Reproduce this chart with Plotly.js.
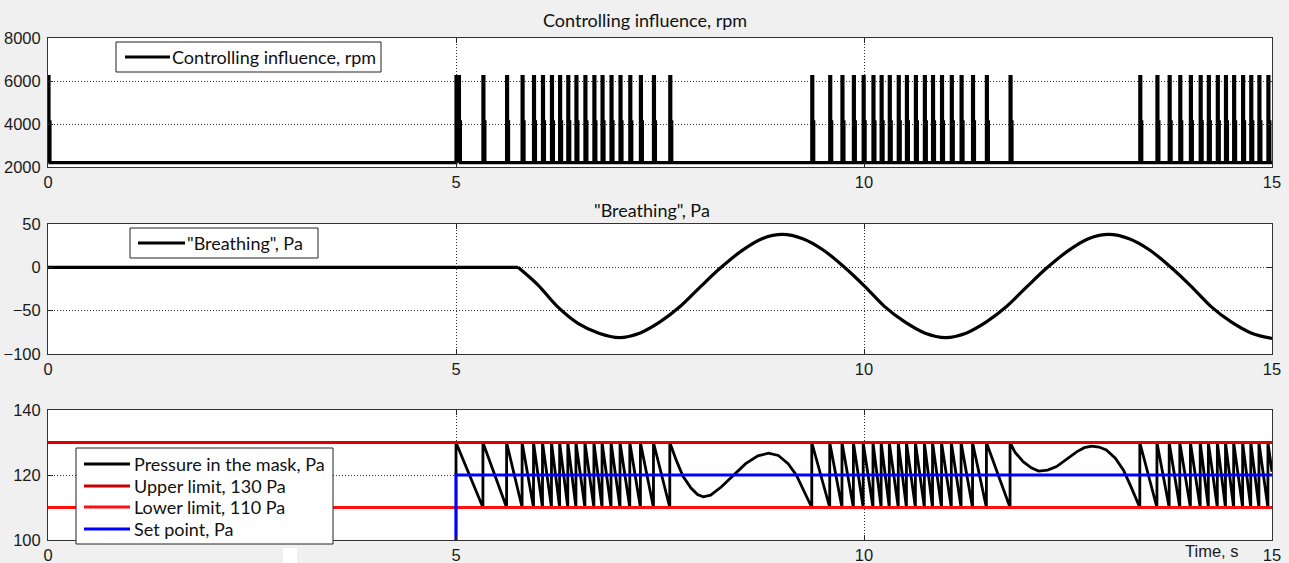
<!DOCTYPE html>
<html>
<head>
<meta charset="utf-8">
<script src="https://cdn.plot.ly/plotly-3.0.1.min.js"></script>
<style>html,body{margin:0;padding:0;background:#f0f0f0;}#chart{width:1289px;height:563px;}</style>
</head>
<body>
<div id="chart"></div>
<script>
// ---------- data ----------
const timeTicks = [0, 5, 10, 15];
const timeTickText = ["0", "5", "10", "15"];
const rpmTicks = [2000, 4000, 6000, 8000];
const breathTicks = [-100, -50, 0, 50];
const pressTicks = [100, 120, 140];

// controlling influence: pulse start times (s), baseline / intermediate / peak rpm
const pulseTimes = [0, 5.0, 5.03, 5.33, 5.62, 5.81, 5.95, 6.06, 6.17, 6.27, 6.37, 6.47, 6.58, 6.69, 6.79, 6.90, 7.01, 7.13, 7.26, 7.42, 7.62,
  9.36, 9.58, 9.73, 9.87, 9.99, 10.11, 10.21, 10.31, 10.42, 10.52, 10.63, 10.74, 10.84, 10.95, 11.07, 11.19, 11.33, 11.50, 11.79,
  13.38, 13.59, 13.74, 13.87, 14.00, 14.12, 14.22, 14.33, 14.43, 14.53, 14.64, 14.74, 14.84, 14.95];
const rpmBase = 2200;
const rpmStep = 4100;
const rpmPeak = 6200;
const pulseHalfWidth = 0.012;

// "Breathing", Pa
const breathT = [0, 5.76, 6.0, 6.25, 6.5, 6.75, 7.0, 7.25, 7.5, 7.75, 8.0, 8.25, 8.5, 8.75, 9.0, 9.25, 9.5, 9.75,
  10.0, 10.25, 10.5, 10.75, 11.0, 11.25, 11.5, 11.75, 12.0, 12.25, 12.5, 12.75, 13.0, 13.25, 13.5, 13.75,
  14.0, 14.25, 14.5, 14.75, 15.0];
const breathV = [0, 0, -20, -46, -65, -76, -81, -76, -63, -45, -22, 0, 19, 33, 38, 33, 20, 1,
  -21, -45, -63, -76, -81, -76, -63, -45, -22, 0, 19, 33, 38, 33, 20, 1,
  -21, -45, -63, -76, -82];

// Pressure in the mask, Pa
const pressT = [5.0, 5.0, 5.33, 5.33, 5.62, 5.62, 5.81, 5.81, 5.95, 5.95, 6.06, 6.06, 6.17, 6.17, 6.27, 6.27, 6.37, 6.37,
  6.47, 6.47, 6.58, 6.58, 6.69, 6.69, 6.79, 6.79, 6.90, 6.90, 7.01, 7.01, 7.13, 7.13, 7.26, 7.26, 7.42, 7.42, 7.62, 7.62,
  7.70, 7.78, 7.88, 7.96, 8.03, 8.12, 8.25, 8.40, 8.55, 8.70, 8.83, 8.95, 9.07, 9.17, 9.27, 9.36,
  9.36, 9.58, 9.58, 9.73, 9.73, 9.87, 9.87, 9.99, 9.99, 10.11, 10.11, 10.21, 10.21, 10.31, 10.31, 10.42, 10.42,
  10.52, 10.52, 10.63, 10.63, 10.74, 10.74, 10.84, 10.84, 10.95, 10.95, 11.07, 11.07, 11.19, 11.19, 11.33, 11.33,
  11.50, 11.50, 11.79, 11.79,
  11.85, 11.95, 12.05, 12.14, 12.25, 12.36, 12.48, 12.61, 12.70, 12.79, 12.88, 12.97, 13.08, 13.18, 13.27, 13.38,
  13.38, 13.59, 13.59, 13.74, 13.74, 13.87, 13.87, 14.00, 14.00, 14.12, 14.12, 14.22, 14.22, 14.33, 14.33,
  14.43, 14.43, 14.53, 14.53, 14.64, 14.64, 14.74, 14.74, 14.84, 14.84, 14.95, 14.95, 15.0];
const pressV = [120, 130, 110, 130, 110, 130, 110, 130, 110, 130, 110, 130, 110, 130, 110, 130, 110, 130,
  110, 130, 110, 130, 110, 130, 110, 130, 110, 130, 110, 130, 110, 130, 110, 130, 110, 130, 110, 130,
  124.5, 119.7, 116, 114, 113.3, 113.8, 116.3, 120, 123.5, 125.9, 126.7, 126, 123.5, 120, 115, 110,
  130, 110, 130, 110, 130, 110, 130, 110, 130, 110, 130, 110, 130, 110, 130, 110, 130,
  110, 130, 110, 130, 110, 130, 110, 130, 110, 130, 110, 130, 110, 130, 110, 130,
  110, 130, 110, 130,
  127, 124.1, 122.2, 121.2, 121.5, 122.6, 124.8, 127.2, 128.4, 128.9, 128.6, 127.7, 125.2, 121.5, 116.5, 110,
  130, 110, 130, 110, 130, 110, 130, 110, 130, 110, 130, 110, 130, 110, 130,
  110, 130, 110, 130, 110, 130, 110, 130, 110, 130, 110, 130, 121];

const limitT = [0, 15];
const upperLimit = [130, 130];
const lowerLimit = [110, 110];
const setT = [5, 5, 15];
const setV = [100, 120, 120];

// series names and colours
const names = ['Controlling influence, rpm', '"Breathing", Pa', 'Pressure in the mask, Pa',
  'Upper limit, 130 Pa', 'Lower limit, 110 Pa', 'Set point, Pa'];
const colors = ['#000000', '#000000', '#000000', '#c80000', '#ff1010', '#0000ff'];

// ---------- build pulse path from the pulse list ----------
const rpmX = [], rpmY = [];
pulseTimes.forEach(function (t) {
  rpmX.push(t, t, t + pulseHalfWidth, t + pulseHalfWidth, t + 2 * pulseHalfWidth, t + 2 * pulseHalfWidth);
  rpmY.push(rpmBase, rpmPeak, rpmPeak, rpmStep, rpmStep, rpmBase);
});
rpmX.push(15); rpmY.push(rpmBase);

const TXT = '#1a1a1a';
const SANS = 'Lato, "Open Sans", sans-serif';
const TICKF = '"Liberation Sans", Arial, sans-serif';

const traces = [
  {x: rpmX, y: rpmY, xaxis: 'x', yaxis: 'y', mode: 'lines', name: names[0],
   line: {color: colors[0], width: 3.2}},
  {x: breathT.slice(0, 2), y: breathV.slice(0, 2), xaxis: 'x2', yaxis: 'y2', mode: 'lines', name: names[1],
   line: {color: colors[1], width: 3.2}},
  {x: breathT.slice(1), y: breathV.slice(1), xaxis: 'x2', yaxis: 'y2', mode: 'lines', name: names[1],
   line: {color: colors[1], width: 3.2, shape: 'spline', smoothing: 1}},
  {x: pressT, y: pressV, xaxis: 'x3', yaxis: 'y3', mode: 'lines', name: names[2],
   line: {color: colors[2], width: 2.8}},
  {x: limitT, y: upperLimit, xaxis: 'x3', yaxis: 'y3', mode: 'lines', name: names[3],
   line: {color: '#e00000', width: 3}},
  {x: limitT, y: lowerLimit, xaxis: 'x3', yaxis: 'y3', mode: 'lines', name: names[4],
   line: {color: colors[4], width: 3}},
  {x: setT, y: setV, xaxis: 'x3', yaxis: 'y3', mode: 'lines', name: names[5],
   line: {color: colors[5], width: 3.2}}
];

const W = 1289, H = 563;
const xDom = [48 / W, 1272 / W];
function xa(anchor) {
  return {domain: xDom, anchor: anchor, range: [0, 15], tickvals: timeTicks, ticktext: timeTickText,
    ticks: 'inside', ticklen: 5, tickcolor: '#262626', showline: true, linecolor: '#333', linewidth: 1,
    mirror: 'ticks', showgrid: true, gridcolor: '#333', griddash: '1px,2px', gridwidth: 1, zeroline: false,
    tickfont: {family: TICKF, size: 16.5, color: TXT}, fixedrange: true};
}
function ya(anchor, dom, range, vals) {
  return {domain: [1 - dom[1] / H, 1 - dom[0] / H], anchor: anchor, range: range, tickvals: vals,
    ticks: 'inside', ticklen: 5, tickcolor: '#262626', showline: true, linecolor: '#333', linewidth: 1,
    mirror: 'ticks', showgrid: true, gridcolor: '#333', griddash: '1px,2px', gridwidth: 1, zeroline: false,
    tickfont: {family: TICKF, size: 16.5, color: TXT}, ticklabelstandoff: 3, fixedrange: true};
}

// ---------- hand-drawn legend boxes (pixel geometry -> paper coords) ----------
const shapes = [];
const annotations = [];
function px(x) { return x / W; }
function py(y) { return 1 - y / H; }
function legendBox(x0, y0, x1, y1, rows) {
  shapes.push({type: 'rect', xref: 'paper', yref: 'paper', x0: px(x0), x1: px(x1), y0: py(y1), y1: py(y0),
    fillcolor: '#ffffff', line: {color: '#222', width: 1}, layer: 'above'});
  rows.forEach(function (r) {
    shapes.push({type: 'line', xref: 'paper', yref: 'paper', x0: px(r.lx0), x1: px(r.lx1), y0: py(r.y), y1: py(r.y),
      line: {color: colors[r.i], width: 3}, layer: 'above'});
    annotations.push({text: names[r.i], xref: 'paper', yref: 'paper', x: px(r.tx), y: py(r.y),
      xanchor: 'left', yanchor: 'middle', showarrow: false, font: {family: SANS, size: 18, color: '#111'}});
  });
}
legendBox(116, 42, 381, 72, [{i: 0, lx0: 125, lx1: 170, tx: 170, y: 57}]);
legendBox(130, 228, 318, 258, [{i: 1, lx0: 138, lx1: 185, tx: 185, y: 243}]);
legendBox(76, 448, 333, 544, [
  {i: 2, lx0: 84, lx1: 130, tx: 132, y: 464},
  {i: 3, lx0: 84, lx1: 130, tx: 132, y: 486},
  {i: 4, lx0: 84, lx1: 130, tx: 132, y: 507},
  {i: 5, lx0: 84, lx1: 130, tx: 132, y: 529}
]);

annotations.push(
  {text: names[0], xref: 'paper', yref: 'paper', x: px(645), y: py(20),
   xanchor: 'center', yanchor: 'middle', showarrow: false, font: {family: SANS, size: 18, color: '#111'}},
  {text: names[1], xref: 'paper', yref: 'paper', x: px(652), y: py(210),
   xanchor: 'center', yanchor: 'middle', showarrow: false, font: {family: SANS, size: 18, color: '#111'}},
  {text: 'Time, s', xref: 'paper', yref: 'paper', x: px(1211), y: py(551),
   xanchor: 'center', yanchor: 'middle', showarrow: false, font: {family: TICKF, size: 16.5, color: TXT}}
);
shapes.push({type: 'rect', xref: 'paper', yref: 'paper', x0: px(283), x1: px(297), y0: 0, y1: 15 / H,
  fillcolor: '#ffffff', line: {width: 0}, layer: 'above'});

const layout = {
  width: W, height: H,
  margin: {l: 0, r: 0, t: 0, b: 0},
  paper_bgcolor: '#f0f0f0', plot_bgcolor: '#ffffff',
  showlegend: false,
  xaxis: xa('y'), yaxis: ya('x', [38, 167], [2000, 8000], rpmTicks),
  xaxis2: xa('y2'), yaxis2: ya('x2', [224, 354], [-100, 50], breathTicks),
  xaxis3: xa('y3'), yaxis3: ya('x3', [410, 540], [100, 140], pressTicks),
  annotations: annotations,
  shapes: shapes
};

Plotly.newPlot('chart', traces, layout, {displayModeBar: false, staticPlot: true});
</script>
</body>
</html>
